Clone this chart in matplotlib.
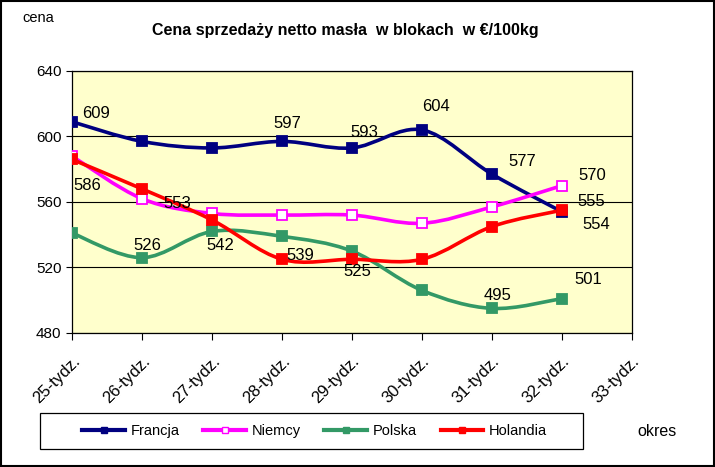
import matplotlib.pyplot as plt
from matplotlib.path import Path
from matplotlib.patches import PathPatch, Rectangle
from matplotlib.lines import Line2D
import numpy as np

plt.rcParams['font.family'] = ['Liberation Sans', 'DejaVu Sans']

tygodnie = ['25-tydz.', '26-tydz.', '27-tydz.', '28-tydz.', '29-tydz.',
            '30-tydz.', '31-tydz.', '32-tydz.', '33-tydz.']
francja = [609, 597, 593, 597, 593, 604, 577, 554]
niemcy = [588, 562, 553, 552, 552, 547, 557, 570]
polska = [541, 526, 542, 539, 530, 506, 495, 501]
holandia = [586, 568, 549, 525, 525, 525, 545, 555]

# etykiety: (indeks punktu, przesuniecie w punktach)
etyk_francja = [(0, (17, 6)), (3, (4, 13)), (4, (9, 11)), (5, (10, 17)), (6, (22, 9)), (7, (25, -9))]
etyk_niemcy = [(2, (-25, 7)), (7, (22, 7))]
etyk_polska = [(1, (4, 9)), (2, (6, -10)), (3, (13, -14)), (6, (4, 9)), (7, (19, 14))]
etyk_holandia = [(0, (11, -19)), (4, (4, -9)), (7, (21, 6))]


def gladka(ax, y, kolor):
    # wygladzona linia jak w Excelu (Bezier z sasiednich punktow)
    x = np.arange(len(y), dtype=float)
    y = np.array(y, dtype=float)
    pts = np.column_stack([x, y])
    verts = [pts[0]]
    codes = [Path.MOVETO]
    n = len(pts)
    for i in range(n - 1):
        p0 = pts[i - 1] if i > 0 else pts[i]
        p1 = pts[i]
        p2 = pts[i + 1]
        p3 = pts[i + 2] if i + 2 < n else pts[i + 1]
        c1 = p1 + (p2 - p0) / 6.0
        c2 = p2 - (p3 - p1) / 6.0
        verts += [c1, c2, p2]
        codes += [Path.CURVE4] * 3
    ax.add_patch(PathPatch(Path(verts, codes), fc='none', ec=kolor, lw=2.6,
                           zorder=3, capstyle='round', joinstyle='round'))


fig = plt.figure(figsize=(7.15, 4.67), dpi=100)
ax = fig.add_axes([0.1007, 0.287, 0.7832, 0.561])
ax.set_facecolor('#FFFFCC')

serie = [
    ('Francja', francja, '#000080', '#000080', etyk_francja),
    ('Niemcy', niemcy, '#FF00FF', 'white', etyk_niemcy),
    ('Polska', polska, '#339966', '#339966', etyk_polska),
    ('Holandia', holandia, '#FF0000', '#FF0000', etyk_holandia),
]

uchwyty = []
for nazwa, y, kolor, wypel, etyk in serie:
    gladka(ax, y, kolor)
    ax.plot(range(len(y)), y, linestyle='none', marker='s', ms=6.5,
            mfc=wypel, mec=kolor, mew=1.3, zorder=4)
    uchwyty.append(Line2D([], [], color=kolor, lw=3, marker='s', ms=5,
                          mfc=wypel, mec=kolor))
    for i, off in etyk:
        ax.annotate(str(y[i]), (i, y[i]), xytext=off, textcoords='offset points',
                    ha='center', va='center', fontsize=12, zorder=5)

ax.set_xlim(0, len(tygodnie) - 1)
ax.set_ylim(480, 640)
ax.set_yticks([480, 520, 560, 600, 640])
ax.set_xticks(range(len(tygodnie)))
ax.set_xticklabels(tygodnie, rotation=45, ha='right', rotation_mode='anchor', fontsize=12)
ax.tick_params(axis='y', labelsize=11, length=4, direction='out')
ax.tick_params(axis='x', length=5, direction='out', pad=10)
ax.grid(axis='y', color='black', lw=0.8)
for s in ax.spines.values():
    s.set_color('black')
    s.set_linewidth(0.9)

fig.text(0.483, 0.935, 'Cena sprzedaży netto masła  w blokach  w €/100kg',
         ha='center', va='center', fontsize=11.5, fontweight='bold')
fig.text(0.031, 0.962, 'cena', ha='left', va='center', fontsize=10.5)
fig.text(0.892, 0.075, 'okres', ha='left', va='center', fontsize=11.5)

leg = fig.legend(uchwyty, [s[0] for s in serie], loc='center', mode='expand',
                 bbox_to_anchor=(0.105, 0.039, 0.67, 0.077), ncol=4, frameon=False,
                 fontsize=10.5, handlelength=2.9, handletextpad=0.4, borderpad=0.0)

# ramka legendy i ramka calego wykresu
fig.patches.append(Rectangle((0.056, 0.039), 0.76, 0.077, transform=fig.transFigure,
                             fill=False, ec='black', lw=0.9))
fig.patches.append(Rectangle((0.001, 0.002), 0.997, 0.996, transform=fig.transFigure,
                             fill=False, ec='black', lw=1.5))

fig.savefig('out.png', dpi=100)
